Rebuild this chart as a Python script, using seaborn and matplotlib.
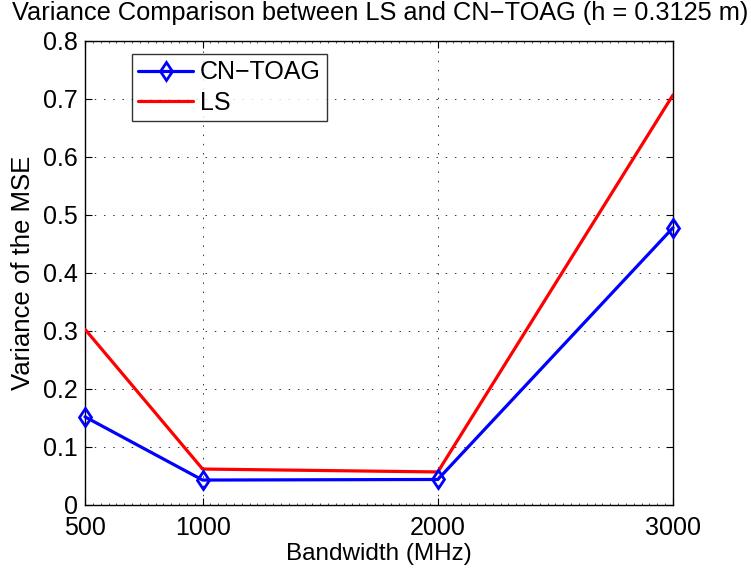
import matplotlib
matplotlib.use("Agg")
import matplotlib.pyplot as plt
import seaborn as sns
import pandas as pd
from matplotlib.ticker import MultipleLocator

bandwidth = [500, 1000, 2000, 3000]
cn_toag = [0.152, 0.043, 0.044, 0.478]
ls_vals = [0.303, 0.062, 0.057, 0.707]
xticks = [500, 1000, 2000, 3000]
yticks = [0, 0.1, 0.2, 0.3, 0.4, 0.5, 0.6, 0.7, 0.8]

sns.set_style("white")
plt.rcParams['font.family'] = ['Liberation Sans', 'DejaVu Sans']
plt.rcParams['text.color'] = 'black'
plt.rcParams['axes.labelcolor'] = 'black'
plt.rcParams['xtick.color'] = 'black'
plt.rcParams['ytick.color'] = 'black'

df = pd.DataFrame({
    "Bandwidth": bandwidth * 2,
    "Value": cn_toag + ls_vals,
    "Method": ["CN\u2212TOAG"] * 4 + ["LS"] * 4,
})

fig = plt.figure(figsize=(7.51, 5.72), dpi=100)
ax = fig.add_axes([85/751, 1-505/572, (673-85)/751, (505-41)/572])

sns.lineplot(data=df[df.Method == "CN\u2212TOAG"], x="Bandwidth", y="Value", ax=ax,
             color="#0000ff", lw=2.3, marker="d", markersize=9.5, markerfacecolor="none",
             markeredgecolor="#0000ff", markeredgewidth=2.0, label="CN\u2212TOAG", zorder=4,
             clip_on=False)
sns.lineplot(data=df[df.Method == "LS"], x="Bandwidth", y="Value", ax=ax,
             color="#ff0000", lw=2.3, label="LS", zorder=3)

ax.set_xlim(500, 3000)
ax.set_ylim(0, 0.8)
ax.set_xticks(xticks)
ax.set_xticklabels([str(v) for v in xticks])
ax.set_yticks(yticks)
ax.set_yticklabels(["0", "0.1", "0.2", "0.3", "0.4", "0.5", "0.6", "0.7", "0.8"])
ax.xaxis.set_minor_locator(MultipleLocator(100 / 3))
ax.tick_params(which="both", direction="in", top=True, right=True, bottom=True, left=True,
               labelsize=18, color="black", labelcolor="black")
ax.tick_params(axis="x", pad=8)
ax.tick_params(axis="y", pad=5)
ax.tick_params(which="major", length=5, width=0.8)
ax.tick_params(which="minor", length=1.5, width=0.5)
ax.grid(True, which="major", linestyle=(0, (1.5, 8)), color="#333333", linewidth=0.7)
for s in ax.spines.values():
    s.set_visible(True)
    s.set_color("black")
    s.set_linewidth(1.0)

ax.set_xlabel("Bandwidth (MHz)", fontsize=17.5, labelpad=2, color="black")
ax.set_ylabel("Variance of the MSE", fontsize=18.5, labelpad=6, color="black")
fig.text(380/751, 1 - 13/572, "Variance Comparison between LS and CN\u2212TOAG (h = 0.3125 m)",
         fontsize=18.3, ha="center", va="center", color="black")

leg = ax.legend(loc="upper left", bbox_to_anchor=(47/588, 1-13/464), fontsize=18,
                frameon=True, fancybox=False, edgecolor="black", handlelength=2.2,
                borderpad=0.25, labelspacing=0.25, handletextpad=0.25, borderaxespad=0)
leg.get_frame().set_linewidth(1.0)
for t in leg.get_texts():
    t.set_color("black")

fig.savefig("out.png", dpi=100)
